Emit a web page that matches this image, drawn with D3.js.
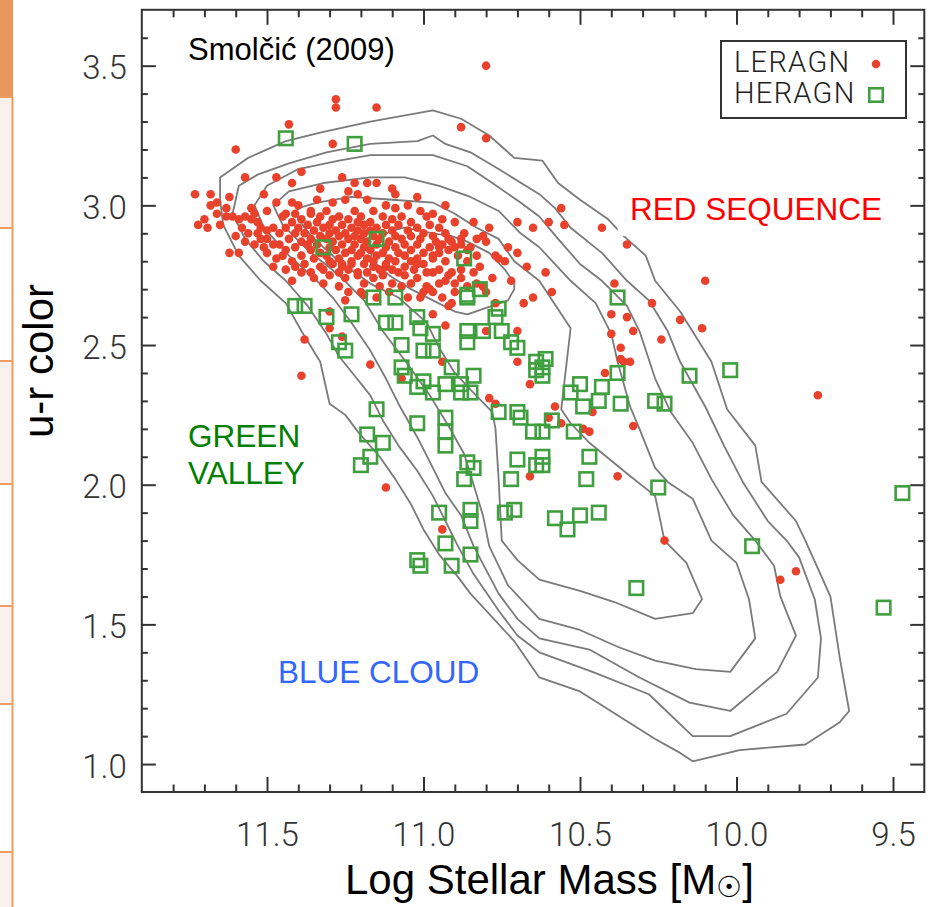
<!DOCTYPE html>
<html><head><meta charset="utf-8">
<script src="https://cdn.jsdelivr.net/npm/d3@7"></script>
<style>
html,body{margin:0;padding:0;background:#fff;}
svg{display:block;}
</style></head>
<body>
<svg id="chart" width="935" height="907"></svg>
<script>
// ---------- DATA ----------
const xMajorTicks = [11.5, 11.0, 10.5, 10.0, 9.5];
const yMajorTicks = [1.0, 1.5, 2.0, 2.5, 3.0, 3.5];
const xLabel = "Log Stellar Mass [M";
const yLabel = "u-r color";
const legendLabels = ["LERAGN", "HERAGN"];

// LERAGN (red dots): [log mass, u-r]
const leragn = [
[10.80,3.50],[11.28,3.38],[11.28,3.35],[11.15,3.35],[11.43,3.29],[10.88,3.28],[10.80,3.24],[11.29,3.22],[11.60,3.20],
[11.57,3.10],[11.39,3.12],[11.47,3.10],[11.42,3.08],[11.26,3.10],[11.18,3.08],[11.15,3.08],[11.73,3.04],[11.68,3.04],
[11.62,3.03],[11.51,3.04],[11.24,3.05],[11.21,3.04],[11.09,3.04],[11.02,3.03],[11.34,3.02],[11.29,3.01],[11.47,3.01],
[11.68,3.00],[11.18,3.02],[11.25,3.02],[11.09,2.99],[10.97,2.97],[10.70,2.94],[10.65,2.92],[11.66,2.97],[11.63,2.96],
[11.69,2.92],[11.42,3.01],[11.50,2.98],[11.54,2.97],[11.44,2.97],[11.41,2.97],[11.36,2.97],[11.62,2.83],[11.59,2.83],
[11.60,2.89],[11.59,2.95],[11.57,2.96],[11.55,2.95],[11.53,2.90],[11.50,2.91],[11.48,2.92],[11.46,2.90],[11.48,2.86],
[11.51,2.85],[11.45,2.82],[11.48,2.78],[11.37,2.86],[11.41,2.78],[11.42,2.73],[11.36,2.76],[11.33,2.78],[11.29,2.79],
[11.26,2.78],[11.23,2.79],[11.21,2.76],[11.16,2.78],[11.12,2.78],[11.08,2.76],[11.06,2.78],[11.02,2.79],[10.97,2.82],
[10.95,2.85],[10.92,2.88],[10.90,2.85],[10.88,2.88],[10.85,2.85],[10.80,2.87],[10.77,2.82],[10.76,2.81],[10.70,2.83],
[10.67,2.78],[10.72,2.73],[10.81,2.71],[10.86,2.71],[10.91,2.76],[10.97,2.76],[10.99,2.71],[10.97,2.69],[11.24,2.69],
[10.81,2.89],[10.82,2.78],
[11.70,2.95],[11.65,2.93],[11.72,2.93],[11.61,2.96],[11.58,2.92],[11.55,2.99],[11.63,2.99],[11.66,3.01],[11.53,2.94],
[11.57,2.87],[11.52,2.88],
// dense core
[11.40,3.00],[11.12,3.00],[11.05,3.00],[10.93,3.00],
[11.36,2.98],[11.31,2.98],[11.22,2.98],[11.16,2.98],[11.01,2.98],
[11.45,2.96],[11.33,2.96],[11.27,2.96],[11.20,2.96],[11.13,2.96],[11.07,2.96],[10.99,2.96],
[11.39,2.95],[11.29,2.95],[11.24,2.95],[11.10,2.95],[10.94,2.95],
[11.42,2.94],[11.34,2.94],[11.21,2.94],[11.17,2.94],[11.04,2.94],[10.90,2.94],[10.84,2.94],
[11.37,2.93],[11.30,2.93],[11.26,2.93],[11.19,2.93],[11.12,2.93],[11.08,2.93],[10.98,2.93],
[11.52,2.92],[11.44,2.92],[11.40,2.92],[11.32,2.92],[11.23,2.92],[11.15,2.92],[11.02,2.92],[10.95,2.92],[10.79,2.92],
[11.35,2.91],[11.28,2.91],[11.21,2.91],[11.17,2.91],[11.10,2.91],[11.05,2.91],
[11.56,2.90],[11.41,2.90],[11.38,2.90],[11.30,2.90],[11.25,2.90],[11.19,2.90],[11.13,2.90],[11.00,2.90],[10.93,2.90],[10.87,2.90],
[11.33,2.89],[11.27,2.89],[11.22,2.89],[11.16,2.89],[11.09,2.89],[11.04,2.89],[10.97,2.89],
[11.50,2.88],[11.43,2.88],[11.36,2.88],[11.31,2.88],[11.24,2.88],[11.20,2.88],[11.14,2.88],[11.07,2.88],[11.01,2.88],[10.83,2.88],
[11.39,2.87],[11.29,2.87],[11.18,2.87],[11.11,2.87],[10.96,2.87],[10.91,2.87],
[11.54,2.86],[11.46,2.86],[11.34,2.86],[11.26,2.86],[11.22,2.86],[11.15,2.86],[11.06,2.86],[11.02,2.86],[10.94,2.86],[10.88,2.86],
[11.41,2.85],[11.30,2.85],[11.19,2.85],[11.12,2.85],[11.09,2.85],[10.98,2.85],[10.73,2.85],
[11.44,2.84],[11.36,2.84],[11.28,2.84],[11.23,2.84],[11.17,2.84],[11.04,2.84],[10.92,2.84],[10.86,2.84],
[11.50,2.83],[11.33,2.83],[11.25,2.83],[11.20,2.83],[11.13,2.83],[11.08,2.83],[11.00,2.83],[10.95,2.83],
[11.39,2.82],[11.31,2.82],[11.21,2.82],[11.15,2.82],[11.06,2.82],[10.89,2.82],[10.83,2.82],
[11.47,2.81],[11.35,2.81],[11.27,2.81],[11.18,2.81],[11.11,2.81],[11.02,2.81],[10.97,2.81],
[11.42,2.80],[11.30,2.80],[11.23,2.80],[11.16,2.80],[11.09,2.80],[11.04,2.80],[10.93,2.80],[10.86,2.80],[10.74,2.80],
[11.38,2.79],[11.26,2.79],[11.19,2.79],[11.12,2.79],[11.00,2.79],
[11.44,2.77],[11.32,2.77],[11.24,2.77],[11.14,2.77],[11.10,2.77],[11.03,2.77],[10.95,2.77],[10.88,2.77],
[11.39,2.76],[11.27,2.76],[11.18,2.76],[10.99,2.76],[10.84,2.76],
[11.30,2.75],[11.21,2.75],[11.13,2.75],[11.06,2.75],[10.92,2.75],
[11.35,2.74],[11.25,2.74],[11.16,2.74],[11.02,2.74],[10.88,2.74],[10.78,2.74],
[11.32,2.72],[11.19,2.72],[11.10,2.72],[11.04,2.72],[10.95,2.72],[10.83,2.72],
[11.27,2.71],[11.14,2.71],[11.07,2.71],
[11.20,2.69],[11.11,2.69],[11.00,2.69],[10.90,2.69],
[11.15,2.67],[11.05,2.67],[10.94,2.67],[11.25,2.66],
[11.33,3.06],[11.10,3.06],[11.22,3.08],
// middle / lower-left
[11.19,2.68],[11.30,2.62],[11.30,2.56],[11.26,2.53],[11.38,2.52],[11.39,2.39],[11.17,2.43],[11.07,2.38],[10.94,2.44],
[10.97,2.61],[10.93,2.57],[10.92,2.64],[10.91,2.65],[11.01,2.67],[10.98,2.70],[10.77,2.65],[10.80,2.55],[10.70,2.55],
[10.68,2.65],[10.65,2.67],[10.70,2.44],[10.66,2.36],[10.79,2.31],[10.77,2.29],[10.66,2.03],[11.12,1.99],[10.94,1.84],
[10.80,2.69],[10.90,2.72],[10.93,2.73],
// right tail
[10.56,2.99],[10.60,2.94],[10.55,2.93],[10.43,2.92],[10.35,2.86],[10.61,2.76],[10.59,2.69],[10.39,2.72],[10.10,2.73],
[10.27,2.65],[10.40,2.61],[10.35,2.60],[10.18,2.59],[10.11,2.56],[10.33,2.55],[10.40,2.54],[10.24,2.52],[10.37,2.49],
[10.37,2.45],[10.36,2.44],[10.34,2.44],[10.42,2.40],[10.58,2.28],[10.60,2.24],[10.56,2.22],[10.49,2.20],[10.47,2.19],
[10.46,2.26],[10.33,2.21],[10.38,2.03],[9.74,2.32],[10.23,1.80],[9.86,1.66],[9.81,1.69]
];

// HERAGN (green squares): [log mass, u-r]
const heragn = [
[11.44,3.24],[11.22,3.22],[11.32,2.85],[11.15,2.88],[10.87,2.81],[10.82,2.70],[10.86,2.68],
[11.41,2.64],[11.38,2.64],[11.31,2.60],[11.23,2.61],[11.16,2.67],[11.09,2.67],[10.86,2.67],[11.12,2.58],[11.09,2.58],
[11.02,2.60],[11.01,2.56],[10.97,2.54],[10.86,2.55],[10.86,2.51],[10.81,2.55],[10.77,2.60],[10.76,2.63],[10.75,2.55],
[10.72,2.51],[10.70,2.49],[10.64,2.44],[10.64,2.41],[11.27,2.51],[11.25,2.48],[11.07,2.50],[11.00,2.48],[10.97,2.48],
[11.07,2.42],[11.06,2.39],[11.02,2.35],[11.00,2.37],[10.97,2.33],[10.93,2.36],[10.91,2.42],[10.88,2.36],[10.88,2.33],
[10.85,2.33],[10.84,2.39],[11.15,2.27],[11.02,2.22],[10.93,2.24],[10.93,2.19],[10.93,2.14],[11.18,2.18],[11.13,2.15],
[11.17,2.10],[11.20,2.07],[10.86,2.08],[10.84,2.06],[10.87,2.02],[10.76,2.26],[10.70,2.26],[10.69,2.24],[10.65,2.19],
[10.64,2.07],[10.70,2.09],[10.72,2.02],[10.95,1.90],[10.85,1.91],[10.85,1.87],[10.74,1.90],[10.71,1.91],
[10.93,1.79],[11.02,1.73],[11.01,1.71],[10.91,1.71],[10.85,1.75],
[10.38,2.67],[10.61,2.45],[10.62,2.42],[10.62,2.39],[10.15,2.39],[10.02,2.41],[10.50,2.36],[10.53,2.33],[10.43,2.35],
[10.38,2.40],[10.44,2.30],[10.49,2.28],[10.37,2.29],[10.26,2.30],[10.23,2.29],[10.59,2.23],[10.62,2.19],[10.52,2.19],
[10.47,2.10],[10.62,2.10],[10.62,2.07],[10.48,2.02],[10.25,1.99],[9.47,1.97],[10.58,1.88],[10.50,1.89],[10.44,1.90],
[10.54,1.84],[9.95,1.78],[10.32,1.63],[9.53,1.56]
];

// Density contours (innermost first): [log mass, u-r]
const contour1 = [[11.10,2.91],[11.06,2.92],[10.97,2.90],[10.91,2.89],[10.86,2.87],[10.79,2.83],[10.74,2.77],[10.71,2.72],[10.71,2.70],[10.73,2.66],[10.86,2.61],[10.90,2.62],[10.97,2.66],[11.04,2.70],[11.11,2.75],[11.17,2.81],[11.15,2.88]];
const contour2 = [[11.38,2.92],[11.41,2.97],[11.40,2.99],[11.34,3.01],[11.23,3.03],[11.10,3.02],[10.97,3.01],[10.90,2.97],[10.83,2.92],[10.76,2.88],[10.71,2.80],[10.63,2.73],[10.53,2.56],[10.56,2.27],[10.53,2.22],[10.47,2.15],[10.35,2.04],[10.26,1.96],[10.23,1.80],[10.16,1.72],[10.11,1.59],[10.14,1.54],[10.26,1.52],[10.39,1.58],[10.50,1.62],[10.63,1.66],[10.70,1.73],[10.75,1.80],[10.76,2.02],[10.77,2.20],[10.78,2.26],[10.85,2.34],[10.90,2.40],[10.95,2.49],[10.99,2.58],[11.08,2.67],[11.17,2.72],[11.27,2.80],[11.35,2.88]];
const contour3 = [[11.43,3.05],[11.32,3.08],[11.17,3.10],[11.06,3.10],[10.95,3.07],[10.85,3.03],[10.76,2.98],[10.69,2.90],[10.63,2.85],[10.53,2.73],[10.45,2.65],[10.40,2.54],[10.38,2.44],[10.34,2.28],[10.31,2.20],[10.26,2.06],[10.22,2.01],[10.14,1.95],[10.08,1.80],[10.00,1.72],[9.96,1.59],[9.94,1.45],[10.02,1.33],[10.13,1.34],[10.26,1.37],[10.38,1.42],[10.50,1.48],[10.63,1.52],[10.73,1.64],[10.79,1.78],[10.81,1.89],[10.84,2.00],[10.87,2.11],[10.92,2.21],[10.98,2.32],[11.05,2.43],[11.13,2.55],[11.19,2.66],[11.27,2.75],[11.37,2.84],[11.45,2.93],[11.48,3.00]];
const contour4 = [[11.50,3.07],[11.40,3.13],[11.27,3.16],[11.17,3.18],[10.97,3.18],[10.86,3.14],[10.78,3.08],[10.69,3.01],[10.63,2.96],[10.57,2.88],[10.50,2.79],[10.43,2.73],[10.35,2.64],[10.31,2.55],[10.26,2.38],[10.21,2.26],[10.14,2.15],[10.08,2.02],[10.01,1.89],[9.94,1.80],[9.88,1.71],[9.86,1.60],[9.81,1.46],[9.87,1.33],[10.02,1.19],[10.15,1.22],[10.31,1.31],[10.47,1.41],[10.63,1.45],[10.70,1.52],[10.76,1.61],[10.84,1.78],[10.88,1.89],[10.93,1.97],[10.97,2.06],[11.02,2.17],[11.08,2.29],[11.12,2.38],[11.17,2.48],[11.23,2.58],[11.29,2.67],[11.34,2.73],[11.43,2.82],[11.51,2.92],[11.54,3.00]];
const contour5 = [[11.59,3.07],[11.53,3.11],[11.43,3.15],[11.31,3.19],[11.17,3.22],[11.02,3.23],[10.97,3.25],[10.93,3.22],[10.85,3.19],[10.76,3.13],[10.63,3.04],[10.58,2.99],[10.53,2.92],[10.43,2.83],[10.35,2.73],[10.28,2.66],[10.22,2.55],[10.18,2.44],[10.10,2.28],[10.04,2.14],[9.98,2.01],[9.90,1.87],[9.84,1.80],[9.80,1.74],[9.75,1.59],[9.73,1.45],[9.74,1.31],[9.84,1.18],[10.02,1.10],[10.14,1.10],[10.28,1.25],[10.46,1.33],[10.63,1.40],[10.70,1.46],[10.76,1.55],[10.84,1.68],[10.89,1.78],[10.93,1.87],[10.97,1.96],[11.02,2.05],[11.08,2.14],[11.13,2.23],[11.17,2.32],[11.22,2.39],[11.27,2.46],[11.31,2.54],[11.37,2.64],[11.44,2.73],[11.51,2.80],[11.57,2.88],[11.61,2.97]];
const contour6 = [[11.65,3.10],[11.56,3.17],[11.44,3.23],[11.33,3.26],[11.17,3.30],[10.97,3.34],[10.88,3.31],[10.79,3.25],[10.71,3.17],[10.62,3.16],[10.57,3.08],[10.50,3.02],[10.41,2.95],[10.36,2.89],[10.29,2.82],[10.26,2.73],[10.18,2.62],[10.08,2.44],[10.03,2.27],[9.94,2.14],[9.92,2.01],[9.81,1.87],[9.78,1.80],[9.70,1.60],[9.67,1.38],[9.64,1.19],[9.67,1.15],[9.78,1.07],[9.99,1.05],[10.14,1.01],[10.18,1.04],[10.26,1.09],[10.50,1.26],[10.63,1.31],[10.71,1.44],[10.85,1.61],[10.89,1.67],[10.95,1.75],[11.00,1.84],[11.04,1.93],[11.09,2.02],[11.14,2.10],[11.21,2.19],[11.25,2.25],[11.30,2.29],[11.33,2.44],[11.39,2.55],[11.44,2.65],[11.52,2.73],[11.59,2.82],[11.64,2.93],[11.65,3.02]];
const contours = [contour1, contour2, contour3, contour4, contour5, contour6];

// Region annotations: [text, log mass, u-r]
const regionText = [
  {text: "RED SEQUENCE", m: 10.34, c: 2.948, color: "#ff0000"},
  {text: "GREEN", m: 11.752, c: 2.135, color: "#008000"},
  {text: "VALLEY", m: 11.752, c: 2.002, color: "#008000"},
  {text: "BLUE CLOUD", m: 11.465, c: 1.29, color: "#3366ff"}
];
const sourceText = "Smolčić (2009)";

// ---------- DRAW ----------
const svg = d3.select("#chart");
const W = 935, H = 907;
svg.append("rect").attr("width", W).attr("height", H).attr("fill", "#fff");

// slide side strip (decoration)
const strip = svg.append("g");
strip.append("rect").attr("x",0).attr("y",0).attr("width",13).attr("height",97).attr("fill","#e9975d");
[[97,228],[361,484],[606,704],[852,907]].forEach(r=>{
  strip.append("rect").attr("x",0).attr("y",r[0]).attr("width",12).attr("height",r[1]-r[0]).attr("fill","#fbf1ec");
});
strip.append("line").attr("x1",12.5).attr("x2",12.5).attr("y1",97).attr("y2",907).attr("stroke","#ec9d63").attr("stroke-width",2);
[97,228,361,484,606,704,852].forEach(yy=>{
  strip.append("line").attr("x1",0).attr("x2",12.5).attr("y1",yy).attr("y2",yy).attr("stroke","#ec9d63").attr("stroke-width",2);
});

const x = d3.scaleLinear().domain([11.9, 9.4]).range([141.8, 924.3]);
const y = d3.scaleLinear().domain([0.9, 3.7]).range([792, 9.8]);
const [x0, x1] = x.range();
const [yb, yt] = y.range();

// contours
const line = d3.line().x(d => x(d[0])).y(d => y(d[1])).curve(d3.curveLinearClosed);
svg.append("g").selectAll("path").data(contours).join("path")
  .attr("d", line).attr("fill", "none").attr("stroke", "#7a7a7a").attr("stroke-width", 1.8)
  .attr("stroke-linejoin", "round");

// white box behind RED SEQUENCE
svg.append("rect").attr("x", x(10.38)).attr("y", y(3.07)).attr("width", x(9.47) - x(10.38)).attr("height", y(2.89) - y(3.07)).attr("fill", "#fff");

// LERAGN dots
svg.append("g").selectAll("circle").data(leragn).join("circle")
  .attr("cx", d => x(d[0])).attr("cy", d => y(d[1])).attr("r", 4.3).attr("fill", "#e8412c");

// HERAGN squares
const sq = 13.5;
svg.append("g").selectAll("rect").data(heragn).join("rect")
  .attr("x", d => x(d[0]) - sq/2).attr("y", d => y(d[1]) - sq/2).attr("width", sq).attr("height", sq)
  .attr("fill", "none").attr("stroke", "#3f9f3f").attr("stroke-width", 2.6);

// axes
const tickFont = "Roboto, 'Liberation Sans', Arial, sans-serif";
const xMinor = d3.range(11.8, 9.41, -0.1).map(v => +v.toFixed(1)).filter(v => !xMajorTicks.includes(v));
const yMinor = d3.range(1.0, 3.65, 0.1).map(v => +v.toFixed(1)).filter(v => !yMajorTicks.includes(v));

function styleAxis(g) {
  g.select(".domain").remove();
  g.selectAll(".tick line").attr("stroke", "#333").attr("stroke-width", 2);
  g.selectAll(".tick text").attr("fill", "#333").style("font-family", tickFont).style("font-weight", 300).style("font-size", "33px");
}
svg.append("g").attr("transform", `translate(0,${yb})`)
  .call(d3.axisBottom(x).tickValues(xMajorTicks).tickSize(-15).tickPadding(31).tickFormat(d3.format(".1f")))
  .call(styleAxis);
svg.append("g").attr("transform", `translate(0,${yb})`)
  .call(d3.axisBottom(x).tickValues(xMinor).tickSize(-7.5).tickFormat("")).call(styleAxis);
svg.append("g").attr("transform", `translate(0,${yt})`)
  .call(d3.axisTop(x).tickValues(xMajorTicks).tickSize(-15).tickFormat("")).call(styleAxis);
svg.append("g").attr("transform", `translate(0,${yt})`)
  .call(d3.axisTop(x).tickValues(xMinor).tickSize(-7.5).tickFormat("")).call(styleAxis);
const gl = svg.append("g").attr("transform", `translate(${x0},0)`)
  .call(d3.axisLeft(y).tickValues(yMajorTicks).tickSize(-14).tickPadding(15).tickFormat(d3.format(".1f")))
  .call(styleAxis);
gl.selectAll(".tick text").attr("dy", "0.40em");
svg.append("g").attr("transform", `translate(${x0},0)`)
  .call(d3.axisLeft(y).tickValues(yMinor).tickSize(-6).tickFormat("")).call(styleAxis);
svg.append("g").attr("transform", `translate(${x1},0)`)
  .call(d3.axisRight(y).tickValues(yMajorTicks).tickSize(-14).tickFormat("")).call(styleAxis);
svg.append("g").attr("transform", `translate(${x1},0)`)
  .call(d3.axisRight(y).tickValues(yMinor).tickSize(-6).tickFormat("")).call(styleAxis);

// frame
svg.append("rect").attr("x", x0).attr("y", yt).attr("width", x1 - x0).attr("height", yb - yt)
  .attr("fill", "none").attr("stroke", "#333").attr("stroke-width", 2);

// axis titles
const sans = "'Liberation Sans', Arial, Helvetica, sans-serif";
const xt = svg.append("text").attr("x", 345).attr("y", 894).attr("fill", "#000")
  .style("font-family", sans).style("font-size", "42px");
xt.append("tspan").text(xLabel);
xt.append("tspan").attr("dy", 3).style("font-size", "29px").style("font-family", "'DejaVu Sans', sans-serif").text("\u2609");
xt.append("tspan").attr("dy", -3).text("]");

svg.append("text").attr("transform", `translate(53,361) rotate(-90)`).attr("text-anchor", "middle")
  .attr("fill", "#000").style("font-family", sans).style("font-size", "42px").text(yLabel);

// annotations
svg.append("text").attr("x", 188).attr("y", 60).attr("fill", "#000")
  .style("font-family", sans).style("font-size", "31px").text(sourceText);
svg.append("g").selectAll("text").data(regionText).join("text")
  .attr("x", d => x(d.m)).attr("y", d => y(d.c)).attr("fill", d => d.color)
  .style("font-family", sans).style("font-size", "31.5px").text(d => d.text);

// legend
const lg = svg.append("g");
lg.append("rect").attr("x", 721).attr("y", 41).attr("width", 185).attr("height", 77)
  .attr("fill", "#fff").attr("stroke", "#333").attr("stroke-width", 2);
lg.selectAll("text").data(legendLabels).join("text")
  .attr("x", 734).attr("y", (d, i) => 72 + i * 31).attr("fill", "#222")
  .style("font-family", tickFont).style("font-weight", 300).style("font-size", "29px")
  .style("letter-spacing", "1.3px").text(d => d);
lg.append("circle").attr("cx", 876).attr("cy", 64).attr("r", 4.3).attr("fill", "#e8412c");
lg.append("rect").attr("x", 876 - sq/2).attr("y", 95 - sq/2).attr("width", sq).attr("height", sq)
  .attr("fill", "none").attr("stroke", "#3f9f3f").attr("stroke-width", 2.6);
</script>
</body></html>
